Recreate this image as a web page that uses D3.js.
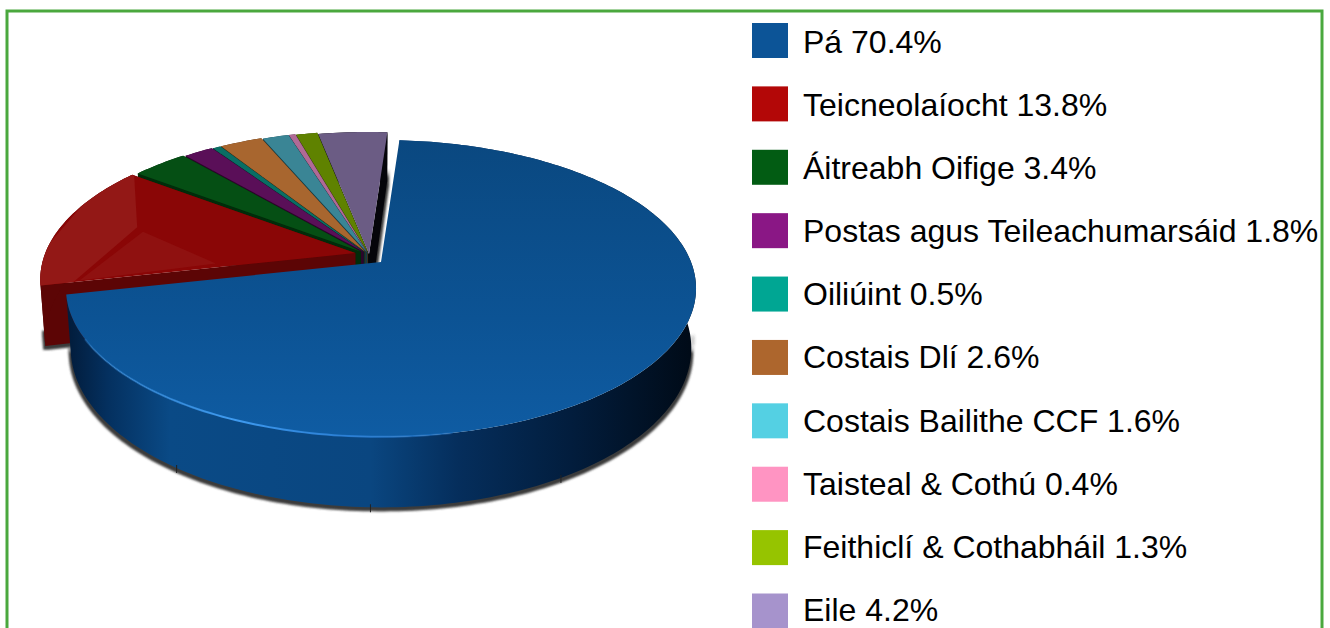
<!DOCTYPE html>
<html><head><meta charset="utf-8">
<script src="https://cdn.jsdelivr.net/npm/d3@7"></script>
<style>html,body{margin:0;padding:0;background:#fff;overflow:hidden}svg{display:block}text{font-family:"Liberation Sans",Arial,sans-serif}</style>
</head><body><svg id="c" width="1330" height="628"></svg>
<script>
const categories=["Pá","Teicneolaíocht","Áitreabh Oifige","Postas agus Teileachumarsáid","Oiliúint","Costais Dlí","Costais Bailithe CCF","Taisteal & Cothú","Feithiclí & Cothabháil","Eile"];
const shares=[70.4,13.8,3.4,1.8,0.5,2.6,1.6,0.4,1.3,4.2];
const legendColors=["#0c5497","#b30707","#025c13","#8a1785","#00a693","#ad662d","#54d0e3","#ff94c2","#96c400","#a693cc"];
const topColors=["#0b4f8f","#8a0606","#054f14","#5a0f58","#0a6e64","#a8662f","#3a8595","#b06a96","#5f8200","#6b5c84"];
const wallColors=["#0a4a86","#5c0505","#012c0a","#2c052a","#03352f","#4a2a10","#123e48","#4a2a40","#2a3a00","#05050a"];
const explode=[0,14,11,9,8,8,6,6,4,0];
const tickAngles=[3.75,3.17,2.62];

const R={x:310,y:143.7,p:0.178,h:58,bottomScale:0.985};
const blueCentre={x:381,y:262}, groupCentre={x:369,y:254};
const svg=d3.select("#c");
const defs=svg.append("defs");
const grad=(id,x1,y1,x2,y2,stops)=>{const g=defs.append("linearGradient").attr("id",id).attr("gradientUnits","userSpaceOnUse").attr("x1",x1).attr("y1",y1).attr("x2",x2).attr("y2",y2);
 stops.forEach(s=>g.append("stop").attr("offset",s[0]).attr("stop-color",s[1]).attr("stop-opacity",s[2]===undefined?1:s[2]));};
grad("wallG",70,0,696,0,[[0,"#021d3d"],[0.06,"#04305f"],[0.16,"#0a4a86"],[0.48,"#0a4680"],[0.62,"#052e5c"],[0.8,"#021d3d"],[1,"#000a16"]]);
grad("topG",0,140,0,437,[[0,"#0a4880"],[0.6,"#0c5394"],[1,"#0f5ca3"]]);
grad("rimG",90,0,520,0,[[0,"#2f8be0",0.35],[0.33,"#3f9bf0",1],[0.6,"#2a80d8",0.9],[1,"#2a80d8",0]]);
const f=defs.append("filter").attr("id","sh").attr("x","-5%").attr("y","-5%").attr("width","110%").attr("height","115%");
f.append("feMorphology").attr("in","SourceAlpha").attr("operator","dilate").attr("radius",1.5).attr("result","d");
f.append("feGaussianBlur").attr("in","d").attr("stdDeviation",1.3).attr("result","b");
f.append("feOffset").attr("in","b").attr("dx",0).attr("dy",1.5).attr("result","o");
f.append("feFlood").attr("flood-color","#3a3a3a").attr("result","c");
f.append("feComposite").attr("in","c").attr("in2","o").attr("operator","in");

// frame
svg.append("rect").attr("x",7).attr("y",11).attr("width",1315).attr("height",640).attr("fill","none").attr("stroke","#4aa83e").attr("stroke-width",3);

// pie geometry
const pie=d3.pie().sort(null).startAngle(0.07).endAngle(0.07+2*Math.PI).value(d=>d);
const arcs=pie(shares).map((d,i)=>{
  const mid=(d.startAngle+d.endAngle)/2;
  const c=i===0?blueCentre:{x:groupCentre.x+explode[i]*Math.sin(mid),y:groupCentre.y-explode[i]*Math.cos(mid)*0.3};
  return {...d,i,c};
});
// depth: 0 = top face, 1 = base of the solid
const proj=(c,a,r,depth)=>{
  const u=r*Math.sin(a),v=-r*Math.cos(a),w=1-R.p*v,s=1-(1-R.bottomScale)*depth;
  return [c.x+s*R.x*u/w, c.y+R.y*v/w+depth*R.h/w];
};
const line=d3.line();
const samples=(a0,a1)=>{const n=Math.max(3,Math.ceil((a1-a0)/0.02));return d3.range(n+1).map(k=>a0+(a1-a0)*k/n);};
const topPath=d=>line([proj(d.c,0,0,0),...samples(d.startAngle,d.endAngle).map(a=>proj(d.c,a,1,0))])+"Z";
const outerBand=(d,a0,a1,z0)=>{const s=samples(a0,a1);
  return line([...s.map(a=>proj(d.c,a,1,z0)),...s.slice().reverse().map(a=>proj(d.c,a,1,1))])+"Z";};
const cutWall=(d,a,z0)=>line([proj(d.c,0,0,z0),proj(d.c,a,1,z0),proj(d.c,a,1,1),proj(d.c,0,0,1)])+"Z";

// shadow pass: only the lower part of the solids casts it, so the upper rims stay clean
const sg=svg.append("g").attr("filter","url(#sh)");
arcs.forEach(d=>{
  if(d.i!==0){
    sg.append("path").attr("d",cutWall(d,d.endAngle,0.75)).attr("fill","#111");
    sg.append("path").attr("d",cutWall(d,d.startAngle,0.75)).attr("fill","#111");
  } else sg.append("path").attr("d",outerBand(d,1.75,d.endAngle,0.75)).attr("fill","#111");
});
const g=svg.append("g");
// paint back to front: last slices first, the large front slice last
const order=arcs.slice(1).reverse().concat(arcs[0]);
order.forEach(d=>{
  const fill=d.i===0?"url(#wallG)":wallColors[d.i];
  if(d.i!==0){
    g.append("path").attr("d",cutWall(d,d.endAngle,0)).attr("fill",fill);
    g.append("path").attr("d",cutWall(d,d.startAngle,0)).attr("fill",fill);
  }
  g.append("path").attr("d",outerBand(d,d.startAngle,d.endAngle,0)).attr("fill",fill);
  g.append("path").attr("d",topPath(d)).attr("fill",d.i===0?"url(#topG)":topColors[d.i]);
  if(d.i===1){
    // soft glare on the red face, clipped to its outline
    defs.append("clipPath").attr("id","redClip").append("path").attr("d",topPath(d));
    const gl=g.append("g").attr("clip-path","url(#redClip)");
    const p=(r,t)=>proj(d.c,d.startAngle+(d.endAngle-d.startAngle)*t,r,0);
    gl.append("path").attr("d",line([p(1.1,1.02),p(0.99,1),p(0.75,0.54),p(0.9,0),p(1.1,-0.02)])+"Z").attr("fill","#931816");
    gl.append("path").attr("d",line([p(0.72,0.5),p(0.45,0.07),p(0.88,0.01)])+"Z").attr("fill","#8f1110");
  }
});
// light rim along the front edge of the big slice
const b=arcs[0];
svg.append("path").attr("d",line(samples(2.95,4.2).map(a=>proj(b.c,a,1,0)))).attr("fill","none").attr("stroke","url(#rimG)").attr("stroke-width",2);
// small tick marks under the base
tickAngles.forEach(a=>{
  const q=proj(b.c,a,1,1);
  svg.append("line").attr("x1",q[0]).attr("x2",q[0]).attr("y1",q[1]-3).attr("y2",q[1]+5).attr("stroke","#222").attr("stroke-width",1);
});

// legend
const legendY=d3.scalePoint().domain(categories).range([41,611.5]);
const legendBase=d3.scalePoint().domain(categories).range([52.5,621]);
const lg=svg.append("g");
categories.forEach((name,i)=>{
  lg.append("rect").attr("x",752).attr("y",legendY(name)-18).attr("width",36).attr("height",35).attr("fill",legendColors[i]);
  lg.append("text").attr("x",803).attr("y",legendBase(name)).attr("font-size",32).attr("fill","#000").text(name+" "+shares[i]+"%");
});
</script></body></html>
